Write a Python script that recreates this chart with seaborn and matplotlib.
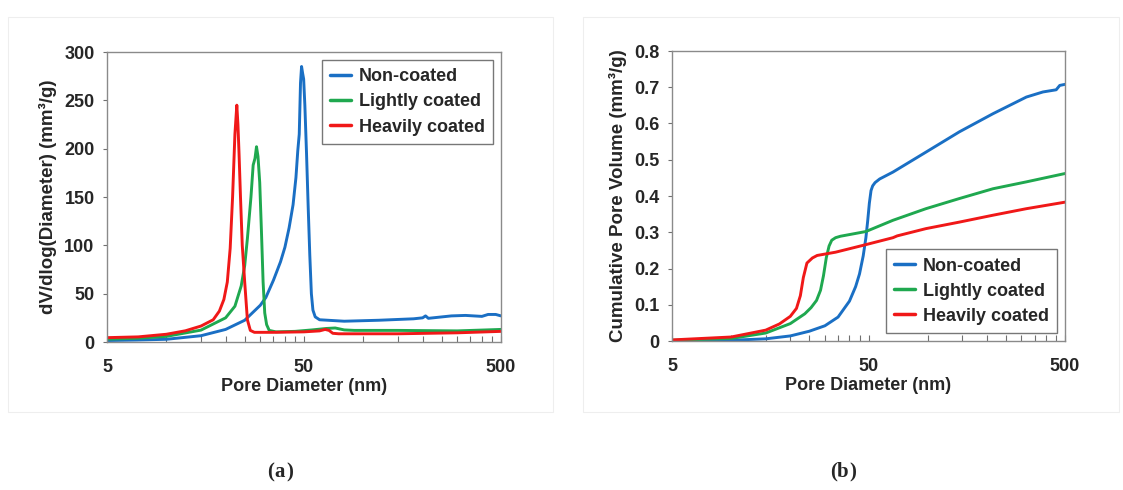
import numpy as np
import pandas as pd
import matplotlib
matplotlib.use("Agg")
import matplotlib.pyplot as plt
from matplotlib.ticker import FixedLocator, NullFormatter
from matplotlib.patches import Rectangle
import seaborn as sns

# ---- series labels and colours ----
series_names = ["Non-coated", "Lightly coated", "Heavily coated"]
series_colors = ["#1a6fc4", "#1fa84f", "#f01818"]

# ---- (a) pore size distribution dV/dlog(D), mm^3/g ----
nc_dist_d = [5, 7, 10, 15, 20, 25, 30, 32, 35, 38, 40, 42, 44, 45.5, 46.5, 47.3, 48.0,
             48.6, 49.2, 49.8, 50.5, 51.5, 52.5, 53.5, 54.5, 55.5, 57, 60, 80, 120, 180,
             200, 207, 214, 280, 330, 400, 430, 470, 500]
nc_dist_v = [1.5, 2, 2.8, 6.5, 13, 22.5, 38, 46, 64, 83, 98, 118, 142, 170, 198, 215, 268,
             285, 278, 272, 245, 195, 140, 90, 50, 33, 26, 23, 21.5, 22.5, 24,
             25, 27, 24.5, 27, 27.5, 26.5, 28.5, 28.5, 27]

lc_dist_d = [5, 7, 10, 15, 20, 22.3, 24, 25, 25.8, 26.9, 27.6, 28.2, 28.7, 29.2, 29.8,
             30.4, 31.0, 31.6, 32.3, 33.3, 36, 45, 55, 65, 72, 80, 90, 150, 300, 500]
lc_dist_v = [3, 3.8, 5.8, 12.3, 25, 37, 58, 79, 107, 150, 183, 190, 202, 192, 165,
             115, 62, 30, 18, 12, 10.5, 11, 12.5, 14, 14.5, 12.5, 12, 12, 11.5, 13]

hc_dist_d = [5, 7.2, 10, 12.5, 15, 17.3, 18.6, 19.6, 20.4, 21.1, 21.7, 22.3, 22.8, 23.1,
             23.4, 23.8, 24.3, 25, 25.8, 26.7, 28, 35, 50, 60, 64, 67, 70, 75, 90, 150,
             300, 500]
hc_dist_v = [4.5, 5.3, 8, 11.6, 16.5, 23, 32, 44, 62, 97, 150, 215, 245, 225,
             195, 150, 100, 62, 23, 12, 10, 10, 10.5, 11.5, 13, 12, 9, 8.5, 8.5, 8.5,
             9.5, 11]

# ---- (b) cumulative pore volume, mm^3/g ----
nc_cum_d = [5, 10, 15, 20, 25, 30, 35, 40, 43, 45, 47, 48.5, 49.5, 50.5, 51.5, 52.5, 54,
            57, 66.6, 98, 145, 215, 318, 386, 451, 470, 500]
nc_cum_v = [0.0, 0.002, 0.006, 0.014, 0.027, 0.042, 0.066, 0.11, 0.15, 0.185, 0.235,
            0.285, 0.33, 0.38, 0.415, 0.428, 0.437, 0.447, 0.466, 0.521, 0.577, 0.627,
            0.673, 0.687, 0.693, 0.705, 0.708]

lc_cum_d = [5, 10, 15, 20, 23.7, 25.5, 27.2, 28.5, 29.5, 30.5, 31.5, 32.5, 34, 36, 48.5,
            66.6, 98, 145, 215, 318, 500]
lc_cum_v = [0.002, 0.007, 0.022, 0.048, 0.075, 0.092, 0.112, 0.14, 0.18, 0.23, 0.262,
            0.278, 0.285, 0.289, 0.302, 0.333, 0.365, 0.393, 0.42, 0.439, 0.462]

hc_cum_d = [5, 10, 15, 17.6, 20, 21.5, 22.5, 23.3, 24.3, 25.9, 27.4, 34, 47, 66.6, 70,
            98, 145, 215, 318, 500]
hc_cum_v = [0.003, 0.011, 0.03, 0.047, 0.068, 0.09, 0.125, 0.175, 0.215, 0.229, 0.236,
            0.245, 0.264, 0.285, 0.29, 0.31, 0.328, 0.347, 0.365, 0.383]

# ---- axis ticks ----
x_major = [5, 50, 500]
x_major_labels = ["5", "50", "500"]
x_minor = [10, 15, 20, 25, 30, 35, 40, 45, 100, 150, 200, 250, 300, 350, 400, 450]
y_ticks_a = [0, 50, 100, 150, 200, 250, 300]
y_ticks_b = [0, 0.1, 0.2, 0.3, 0.4, 0.5, 0.6, 0.7, 0.8]
y_labels_b = ["0", "0.1", "0.2", "0.3", "0.4", "0.5", "0.6", "0.7", "0.8"]


def long_frame(pairs):
    frames = []
    for name, (d, v) in zip(series_names, pairs):
        frames.append(pd.DataFrame({"d": d, "v": v, "Sample": name}))
    return pd.concat(frames, ignore_index=True)


dist_df = long_frame([(nc_dist_d, nc_dist_v), (lc_dist_d, lc_dist_v), (hc_dist_d, hc_dist_v)])
cum_df = long_frame([(nc_cum_d, nc_cum_v), (lc_cum_d, lc_cum_v), (hc_cum_d, hc_cum_v)])

sns.set_style("white")
plt.rcParams["font.family"] = ["Liberation Sans", "DejaVu Sans"]
plt.rcParams["font.weight"] = "bold"
plt.rcParams["axes.labelweight"] = "bold"

fig = plt.figure(figsize=(11.23, 4.90), dpi=100)
W, H = 1123, 490


def box(x0, y0, x1, y1):
    return [x0 / W, 1 - y1 / H, (x1 - x0) / W, (y1 - y0) / H]


# faint panel frames
for (x0, y0, x1, y1) in [(8, 17, 553, 412), (583, 17, 1119, 412)]:
    fig.patches.append(Rectangle((x0 / W, 1 - y1 / H), (x1 - x0) / W, (y1 - y0) / H,
                                 transform=fig.transFigure, fill=False,
                                 edgecolor="#eeeeee", linewidth=0.8))

ax_a = fig.add_axes(box(107, 52, 501, 342))
ax_b = fig.add_axes(box(672, 51, 1065, 341))

palette = dict(zip(series_names, series_colors))

for ax, df in [(ax_a, dist_df), (ax_b, cum_df)]:
    sns.lineplot(data=df, x="d", y="v", hue="Sample", palette=palette, sort=False,
                 estimator=None, linewidth=2.1, ax=ax)
    ax.set_xscale("log")
    ax.set_xlim(5, 500)
    ax.xaxis.set_major_locator(FixedLocator(x_major))
    ax.set_xticklabels(x_major_labels)
    ax.xaxis.set_minor_locator(FixedLocator(x_minor))
    ax.xaxis.set_minor_formatter(NullFormatter())
    ax.tick_params(axis="x", which="both", direction="in", length=4, width=0.8,
                   color="#707070", pad=12, labelsize=13, bottom=True, top=False)
    ax.tick_params(axis="y", which="major", direction="out", length=3, width=0.8,
                   color="#707070", pad=6, labelsize=13, left=True)
    for sp in ax.spines.values():
        sp.set_color("#8a8a8a")
        sp.set_linewidth(1.0)
    ax.set_xlabel("Pore Diameter (nm)", fontsize=13, fontweight="bold", labelpad=2)
    for lab in ax.get_xticklabels() + ax.get_yticklabels():
        lab.set_fontweight("bold")

ax_a.set_ylim(0, 300)
ax_a.set_yticks(y_ticks_a)
ax_a.set_yticklabels([str(t) for t in y_ticks_a], fontweight="bold")
ax_a.set_ylabel("dV/dlog(Diameter) (mm³/g)", fontsize=13.5, fontweight="bold", labelpad=5)

ax_b.set_ylim(0, 0.8)
ax_b.set_yticks(y_ticks_b)
ax_b.set_yticklabels(y_labels_b, fontweight="bold")
ax_b.set_ylabel("Cumulative Pore Volume (mm³/g)", fontsize=13.5, fontweight="bold",
                labelpad=5)

for ax, loc in [(ax_a, "upper right"), (ax_b, "lower right")]:
    handles, labels = ax.get_legend_handles_labels()
    leg = ax.legend(handles, labels, loc=loc, fontsize=13, frameon=True, fancybox=False,
                    handlelength=1.15, handletextpad=0.45, borderpad=0.45,
                    labelspacing=0.45, borderaxespad=0.45)
    leg.get_frame().set_edgecolor("#555555")
    leg.get_frame().set_linewidth(1.0)
    for t in leg.get_texts():
        t.set_fontweight("bold")
    for lh in leg.get_lines():
        lh.set_linewidth(2.5)

serif = ["Liberation Serif", "DejaVu Serif"]
for cx, letter in [(280, "a"), (843, "b")]:
    y = 1 - 472 / H
    fig.text((cx - 6) / W, y, "(", family=serif, fontsize=15, ha="right", va="center")
    fig.text(cx / W, y, letter, family=serif, fontsize=15, fontweight="bold",
             ha="center", va="center")
    fig.text((cx + 6) / W, y, ")", family=serif, fontsize=15, ha="left", va="center")

fig.savefig("out.png", dpi=100, facecolor="white")
